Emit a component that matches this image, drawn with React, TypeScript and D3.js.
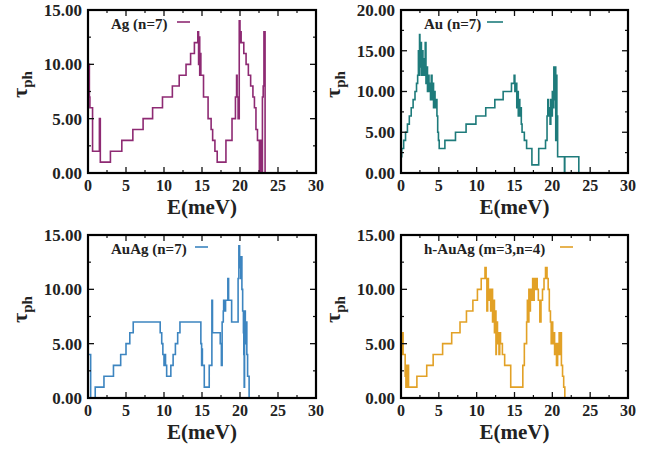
import React from "react";
import * as d3 from "d3";

// energy axis and tick labels shared by all four panels
const xTicks = [0, 5, 10, 15, 20, 25, 30];
const yTicks15 = [0, 5, 10, 15];
const yTicks20 = [0, 5, 10, 15, 20];

const agLabel = "Ag (n=7)";
const auLabel = "Au (n=7)";
const auagLabel = "AuAg (n=7)";
const hauagLabel = "h-AuAg (m=3,n=4)";

// [E (meV), tau_ph] pairs, drawn as step-after lines
const agData: [number, number][] = [
  [0, 10], [0.08, 8], [0.12, 10], [0.18, 7], [0.25, 6], [0.6, 2], [1.5, 5], [1.62, 1],
  [2.95, 2], [4.45, 3], [5.9, 4], [7.25, 5], [8.5, 6], [9.8, 7], [11.1, 8], [12.0, 9],
  [12.9, 10], [13.5, 11], [14.0, 12], [14.45, 13], [14.55, 10], [14.62, 12.5], [14.7, 9],
  [14.78, 11], [14.85, 9], [15.2, 7], [15.8, 5], [16.2, 4], [16.4, 3], [16.7, 2], [17.0, 1],
  [18.15, 3], [18.95, 5], [19.4, 7], [19.55, 9], [19.62, 7], [19.75, 5], [19.9, 14],
  [20.0, 12], [20.05, 13], [20.15, 12], [20.5, 11], [20.8, 10], [21.1, 9], [21.4, 8],
  [21.7, 7], [21.9, 6], [22.1, 4], [22.3, 3], [22.55, 0], [22.7, 3], [22.75, 0],
  [22.95, 7], [23.05, 8], [23.15, 13], [23.3, 0], [23.35, 0],
];

const auData: [number, number][] = [
  [0, 2], [0.1, 3], [0.35, 4], [0.6, 5], [0.85, 6], [1.1, 7], [1.35, 8], [1.6, 9],
  [1.85, 10], [2.05, 11], [2.2, 12], [2.3, 15], [2.35, 12], [2.45, 17], [2.5, 13],
  [2.6, 16], [2.7, 12], [2.8, 15], [2.9, 12], [3.0, 14], [3.1, 12], [3.2, 16], [3.3, 11],
  [3.4, 13], [3.5, 10], [3.6, 12], [3.7, 10], [3.8, 11], [3.9, 9], [4.0, 12], [4.1, 9],
  [4.2, 11], [4.3, 8], [4.4, 10], [4.5, 8], [4.6, 9], [4.75, 7], [4.85, 5], [4.95, 4],
  [5.05, 3], [5.8, 4], [7.2, 5], [8.6, 6], [9.9, 7], [11.2, 8], [12.4, 9], [13.5, 10],
  [14.6, 11], [14.95, 12], [15.05, 10], [15.2, 11], [15.3, 8], [15.4, 10], [15.5, 7],
  [15.6, 9], [15.7, 7], [15.8, 8], [15.9, 6], [16.0, 5], [16.3, 4], [16.6, 3], [17.3, 1],
  [18.2, 3], [19.1, 4], [19.3, 7], [19.4, 9], [19.5, 7], [19.6, 8], [19.7, 6], [19.8, 9],
  [19.9, 7], [20.0, 10], [20.1, 8], [20.2, 13], [20.3, 9], [20.35, 13], [20.45, 4],
  [20.5, 12], [20.6, 7], [20.7, 2], [21.6, 0], [21.65, 2], [23.5, 0], [23.55, 0],
];

const auagData: [number, number][] = [
  [0, 4], [0.35, 0], [0.95, 1], [2.1, 2], [3.35, 3], [4.3, 4], [5.0, 5], [5.5, 6],
  [5.95, 7], [9.5, 6], [9.7, 5], [9.85, 4], [10.0, 3], [10.1, 4], [10.2, 3], [10.35, 2],
  [10.9, 3], [11.2, 4], [11.5, 5], [11.8, 6], [12.1, 7], [14.85, 5], [14.95, 3],
  [15.0, 4.5], [15.05, 3], [15.3, 1], [15.95, 3], [16.3, 9], [16.38, 6], [17.4, 5],
  [17.55, 3], [17.65, 7], [17.8, 8], [17.85, 9], [18.0, 8], [18.1, 9], [18.4, 11],
  [18.5, 9], [18.9, 7], [19.75, 11], [19.85, 14], [19.95, 12], [20.0, 13], [20.1, 11],
  [20.15, 13], [20.25, 10], [20.35, 8], [20.45, 6], [20.5, 4], [20.55, 1], [20.6, 8],
  [20.7, 5], [20.8, 7], [20.9, 4], [21.0, 2], [21.2, 0], [21.25, 0],
];

const hauagData: [number, number][] = [
  [0, 4], [0.2, 6], [0.28, 4], [0.55, 2], [0.65, 1], [0.75, 3], [0.85, 1], [0.95, 3],
  [1.0, 1], [2.1, 2], [3.4, 3], [4.25, 4], [5.5, 5], [6.7, 6], [7.8, 7], [8.65, 8],
  [9.5, 9], [10.1, 10], [10.6, 11], [11.1, 12], [11.25, 11], [11.35, 8], [11.45, 11],
  [11.55, 9], [11.7, 10], [11.85, 8], [12.0, 10], [12.1, 7], [12.25, 9], [12.35, 6],
  [12.45, 8], [12.55, 4], [12.6, 7], [12.75, 5], [12.85, 6], [12.95, 4], [13.05, 6],
  [13.15, 5], [13.4, 4], [13.7, 3], [14.5, 1], [16.1, 3], [16.3, 5], [16.6, 7], [16.7, 9],
  [16.8, 7], [16.9, 10], [17.0, 8], [17.1, 10], [17.25, 9], [17.4, 11], [17.5, 9],
  [17.6, 11], [17.75, 10], [17.85, 11], [18.0, 10], [18.15, 9], [18.35, 7], [18.5, 9],
  [18.7, 10], [18.9, 11], [19.1, 12], [19.3, 11], [19.45, 10], [19.6, 8], [19.75, 7],
  [19.85, 5], [19.95, 7], [20.05, 5], [20.15, 6], [20.3, 4], [20.45, 5], [20.55, 3],
  [20.7, 5], [20.8, 4], [20.9, 6], [21.0, 4], [21.1, 6], [21.2, 3], [21.35, 2],
  [21.5, 1], [21.65, 0], [21.7, 0],
];

const FONT = "'Liberation Serif', 'Times New Roman', serif";
const fmt = d3.format(".2f");

type PanelProps = {
  left: number;
  right: number;
  top: number;
  bottom: number;
  yMax: number;
  yTicks: number[];
  data: [number, number][];
  color: string;
  label: string;
  keyX: [number, number];
};

const Panel = ({ left, right, top, bottom, yMax, yTicks, data, color, label, keyX }: PanelProps) => {
  const x = d3.scaleLinear().domain([0, 30]).range([left, right]);
  const y = d3.scaleLinear().domain([0, yMax]).range([bottom, top]);
  const line = d3
    .line<[number, number]>()
    .x((d) => x(d[0]))
    .y((d) => y(d[1]))
    .curve(d3.curveStepAfter);

  const minorX = d3.range(2.5, 30, 5);
  const minorY = d3.range(2.5, yMax, 5);
  const cy = (top + bottom) / 2 - 7;

  return (
    <g>
      <path d={line(data) ?? ""} fill="none" stroke={color} strokeWidth={1.6} />

      {/* ticks on all four sides, pointing inward */}
      {xTicks.map((t) => (
        <g key={"xt" + t}>
          <line x1={x(t)} x2={x(t)} y1={bottom} y2={bottom - 6} stroke="#111" strokeWidth={1.3} />
          <line x1={x(t)} x2={x(t)} y1={top} y2={top + 6} stroke="#111" strokeWidth={1.3} />
        </g>
      ))}
      {minorX.map((t) => (
        <g key={"xm" + t}>
          <line x1={x(t)} x2={x(t)} y1={bottom} y2={bottom - 3} stroke="#111" strokeWidth={1.2} />
          <line x1={x(t)} x2={x(t)} y1={top} y2={top + 3} stroke="#111" strokeWidth={1.2} />
        </g>
      ))}
      {yTicks.map((t) => (
        <g key={"yt" + t}>
          <line x1={left} x2={left + 6} y1={y(t)} y2={y(t)} stroke="#111" strokeWidth={1.3} />
          <line x1={right} x2={right - 6} y1={y(t)} y2={y(t)} stroke="#111" strokeWidth={1.3} />
        </g>
      ))}
      {minorY.map((t) => (
        <g key={"ym" + t}>
          <line x1={left} x2={left + 3} y1={y(t)} y2={y(t)} stroke="#111" strokeWidth={1.2} />
          <line x1={right} x2={right - 3} y1={y(t)} y2={y(t)} stroke="#111" strokeWidth={1.2} />
        </g>
      ))}

      <rect
        x={left}
        y={top}
        width={right - left}
        height={bottom - top}
        fill="none"
        stroke="#000"
        strokeWidth={2.2}
      />

      {xTicks.map((t) => (
        <text
          key={"xl" + t}
          x={x(t)}
          y={bottom + 18}
          textAnchor="middle"
          fontFamily={FONT}
          fontWeight="bold"
          fontSize={16}
          fill="#222"
        >
          {t}
        </text>
      ))}
      {yTicks.map((t) => (
        <text
          key={"yl" + t}
          x={left - 6}
          y={y(t)}
          dy="0.35em"
          textAnchor="end"
          fontFamily={FONT}
          fontWeight="bold"
          fontSize={17}
          fill="#222"
        >
          {fmt(t)}
        </text>
      ))}

      <text
        x={(left + right) / 2}
        y={bottom + 41}
        textAnchor="middle"
        fontFamily={FONT}
        fontWeight="bold"
        fontSize={21}
        fill="#222"
      >
        E(meV)
      </text>
      <text
        transform={`translate(${left - 61},${cy}) rotate(-90)`}
        textAnchor="middle"
        fontFamily={FONT}
        fontWeight="bold"
        fontSize={22}
        fill="#222"
      >
        τ
        <tspan fontSize={15} dy={5}>
          ph
        </tspan>
      </text>

      {/* key */}
      <text
        x={left + 23}
        y={top + 19}
        fontFamily={FONT}
        fontWeight="bold"
        fontSize={15}
        fill="#222"
      >
        {label}
      </text>
      <line
        x1={left + keyX[0]}
        x2={left + keyX[1]}
        y1={top + 12}
        y2={top + 12}
        stroke={color}
        strokeWidth={1.6}
      />
    </g>
  );
};

export default function App() {
  return (
    <svg
      width={654}
      height={449}
      style={{ position: "absolute", left: 0, top: 0, background: "#fff" }}
    >
      <Panel left={88} right={316} top={10} bottom={173} yMax={15} yTicks={yTicks15}
        data={agData} color="#8e2a73" label={agLabel} keyX={[89, 102]} />
      <Panel left={401} right={628} top={10} bottom={173} yMax={20} yTicks={yTicks20}
        data={auData} color="#1e7b7b" label={auLabel} keyX={[86, 102]} />
      <Panel left={88} right={316} top={235} bottom={398} yMax={15} yTicks={yTicks15}
        data={auagData} color="#3d85c0" label={auagLabel} keyX={[107, 120]} />
      <Panel left={401} right={628} top={235} bottom={398} yMax={15} yTicks={yTicks15}
        data={hauagData} color="#e2a126" label={hauagLabel} keyX={[159, 172]} />
    </svg>
  );
}
